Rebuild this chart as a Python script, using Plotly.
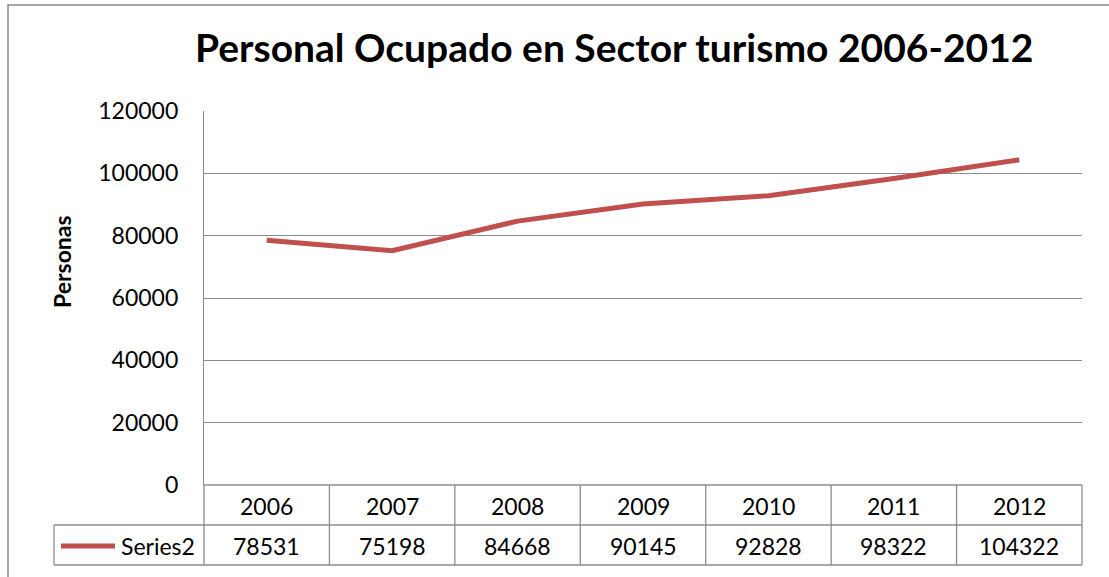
import plotly.graph_objects as go

years = ["2006", "2007", "2008", "2009", "2010", "2011", "2012"]
values = [78531, 75198, 84668, 90145, 92828, 98322, 104322]
series_name = "Series2"
title_text = "Personal Ocupado en Sector turismo 2006-2012"
y_title = "Personas"
y_ticks = [0, 20000, 40000, 60000, 80000, 100000, 120000]

W, H = 1109, 577
L, R, T, B = 204, 1082, 111, 485
PW, PH = R - L, B - T
FONT = "Lato, Open Sans, sans-serif"
GRID = "#8c8c8c"
RED = "#C0504D"
TXT = 23


def px(xp):
    return (xp - L) / PW


def py(yp):
    return (B - yp) / PH


fig = go.Figure()
fig.add_trace(go.Scatter(x=years, y=values, mode="lines",
                         line=dict(color=RED, width=5), name=series_name,
                         showlegend=False))

shapes = []
ann = []
n = len(years)
# outer chart border
shapes.append(dict(type="rect", xref="paper", yref="paper",
                   x0=px(8), x1=px(1120), y0=py(590), y1=py(5),
                   line=dict(color="#8a8a8a", width=1.5), layer="below"))
row1_bottom = 525
row2_bottom = 565
for yy, x0 in [(B, L), (row1_bottom, 54), (row2_bottom, 54)]:
    shapes.append(dict(type="line", xref="paper", yref="paper",
                       x0=px(x0), x1=1, y0=py(yy), y1=py(yy),
                       line=dict(color=GRID, width=1.3)))
for i in range(n + 1):
    shapes.append(dict(type="line", xref="paper", yref="paper",
                       x0=i / n, x1=i / n, y0=py(B), y1=py(row2_bottom),
                       line=dict(color=GRID, width=1.3)))
shapes.append(dict(type="line", xref="paper", yref="paper",
                   x0=px(54), x1=px(54), y0=py(row1_bottom), y1=py(row2_bottom),
                   line=dict(color=GRID, width=1.3)))
shapes.append(dict(type="line", xref="paper", yref="paper",
                   x0=px(61), x1=px(115), y0=py(546), y1=py(546),
                   line=dict(color=RED, width=5)))


def note(x, y, text, size, xanchor="center", angle=0):
    return dict(x=x, xref="paper", y=y, yref="paper", text=text,
                xanchor=xanchor, yanchor="middle", textangle=angle,
                showarrow=False, font=dict(size=size, color="#000", family=FONT))


for i, (yr, v) in enumerate(zip(years, values)):
    xc = (i + 0.5) / n
    ann.append(note(xc, py(506), yr, TXT))
    ann.append(note(xc, py(546), str(v), TXT))
ann.append(note(px(197), py(546), series_name, TXT, xanchor="right"))
ann.append(note(px(614), py(47), "<b>" + title_text + "</b>", 39))
ann.append(note(px(62), py(262), "<b>" + y_title + "</b>", 23, angle=-90))

fig.update_layout(
    width=W, height=H,
    margin=dict(l=L, r=W - R, t=T, b=H - B),
    paper_bgcolor="white", plot_bgcolor="white",
    shapes=shapes, annotations=ann, showlegend=False,
    xaxis=dict(type="category", range=[-0.5, n - 0.5], showticklabels=False,
               showgrid=False, zeroline=False, showline=False, fixedrange=True),
    yaxis=dict(range=[0, 120000], tickvals=y_ticks, ticktext=[str(t) for t in y_ticks],
               showgrid=True, gridcolor=GRID, gridwidth=1.3, zeroline=False,
               showline=True, linecolor=GRID, linewidth=1.3,
               ticks="", ticklabelstandoff=20,
               tickfont=dict(size=TXT, color="#000", family=FONT)),
)
fig.write_html("out.html", config={"displayModeBar": False},
               post_script="document.body.style.margin='0';document.body.style.overflow='hidden';")
